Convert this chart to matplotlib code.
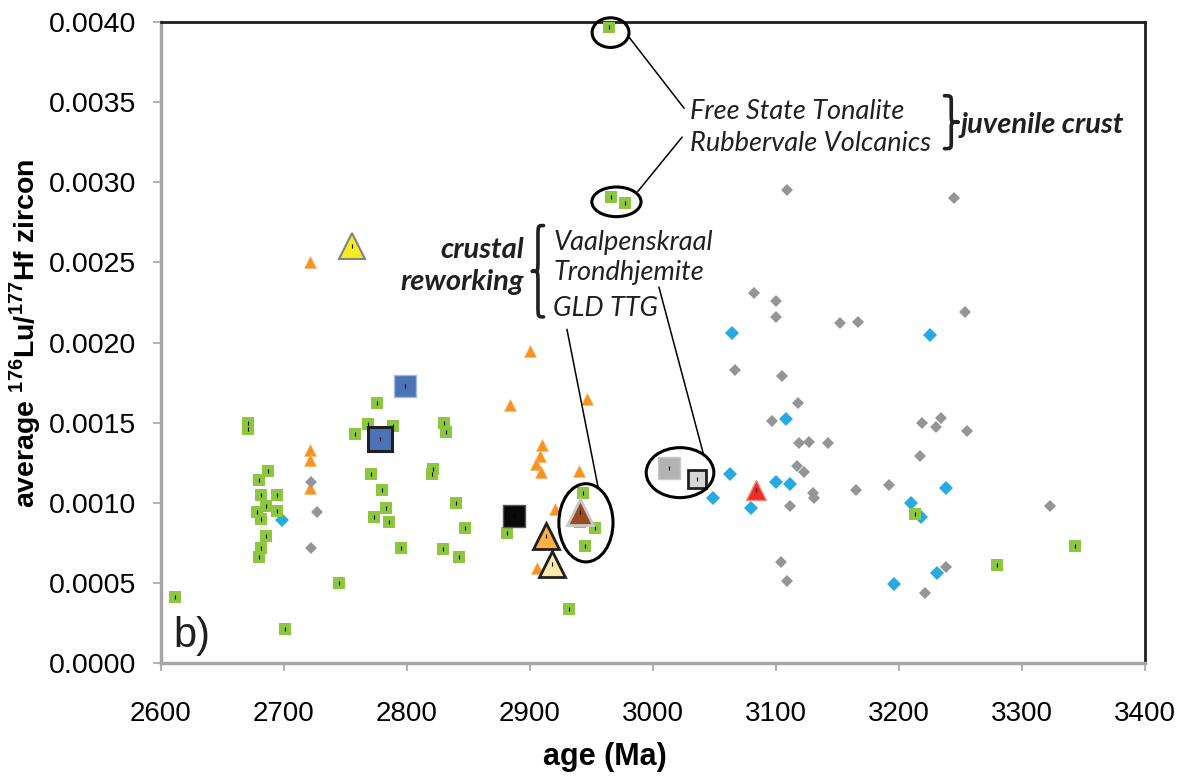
import numpy as np
import matplotlib
matplotlib.use("Agg")
import matplotlib.pyplot as plt
from matplotlib.patches import Ellipse, PathPatch
from matplotlib.path import Path

plt.rcParams['font.family'] = ['Liberation Sans', 'DejaVu Sans']
plt.rcParams['mathtext.fontset'] = 'custom'
plt.rcParams['mathtext.bf'] = 'Liberation Sans:bold'
plt.rcParams['mathtext.rm'] = 'Liberation Sans'

### DATA ###

# small green squares
green_age = [2611, 2671, 2671, 2687, 2680, 2681, 2694, 2685, 2678, 2681, 2694, 2685,
             2681, 2680, 2701, 2745, 2776, 2768, 2758, 2789, 2771, 2780, 2783, 2773,
             2785, 2795, 2821, 2820, 2830, 2832, 2829, 2840, 2847, 2842, 2881, 2943,
             2941, 2953, 2945, 2932, 2964, 2966, 2977, 3213, 3343, 3280]
green_lu = [0.00041, 0.00150, 0.00146, 0.00120, 0.00114, 0.00105, 0.00105, 0.00098,
            0.00094, 0.00090, 0.00095, 0.00079, 0.00072, 0.00066, 0.00021, 0.00050,
            0.00162, 0.00149, 0.00143, 0.00148, 0.00118, 0.00108, 0.00097, 0.00091,
            0.00088, 0.00072, 0.00121, 0.00118, 0.00150, 0.00144, 0.00071, 0.00100,
            0.00084, 0.00066, 0.00081, 0.00106, 0.00088, 0.00084, 0.00073, 0.00034,
            0.00397, 0.00291, 0.00287, 0.00093, 0.00073, 0.00061]

# small orange triangles
orange_age = [2721, 2721, 2721, 2721, 2900, 2884, 2946, 2910, 2908, 2905, 2909, 2940,
              2920, 2906]
orange_lu = [0.00133, 0.00127, 0.00109, 0.00250, 0.00195, 0.00161, 0.00165, 0.00136,
             0.00129, 0.00124, 0.00119, 0.00120, 0.00096, 0.00059]

# grey diamonds
grey_age = [2722, 2727, 2722, 3109, 3082, 3100, 3100, 3152, 3167, 3067, 3105, 3118,
            3097, 3219, 3230, 3119, 3127, 3142, 3245, 3254, 3234, 3255, 3217, 3192,
            3323, 3238, 3221, 3117, 3123, 3130, 3131, 3111, 3165, 3104, 3109]
grey_lu = [0.00113, 0.00094, 0.00072, 0.00295, 0.00231, 0.00226, 0.00216, 0.00212,
           0.00213, 0.00183, 0.00179, 0.00162, 0.00151, 0.00150, 0.00147, 0.00137,
           0.00138, 0.00137, 0.00290, 0.00219, 0.00153, 0.00145, 0.00129, 0.00111,
           0.00098, 0.00060, 0.00044, 0.00123, 0.00119, 0.00106, 0.00103, 0.00098,
           0.00108, 0.00063, 0.00051]

# blue diamonds
blue_age = [2698, 3064, 3225, 3108, 3238, 3210, 3218, 3231, 3196, 3063, 3049, 3080,
            3100, 3111]
blue_lu = [0.00089, 0.00206, 0.00205, 0.00152, 0.00109, 0.00100, 0.00091, 0.00056,
           0.00049, 0.00118, 0.00103, 0.00097, 0.00113, 0.00112]

# large symbols (sample averages)
big_age = [2755, 2798, 2778, 2887, 2913, 2918, 2941, 3013, 3036, 3084]
big_lu = [0.00260, 0.00173, 0.00140, 0.00092, 0.00079, 0.00062, 0.00094, 0.00122,
          0.00115, 0.00108]
big_marker = ['^', 's', 's', 's', '^', '^', '^', 's', 's', '^']
big_face = ['#F4EB22', '#4C72B8', '#4C72B8', '#0A0A0A', '#FBB040', '#FDE9A9',
            '#974B22', '#B3B3B3', '#D6D6D6', '#EE2E24']
big_edge = ['#808285', '#A8B8DE', '#231F20', '#555555', '#231F20', '#231F20',
            '#C8C8C8', '#C8C8C8', '#231F20', '#F58A7E']
big_size = [19, 16.5, 17, 16.5, 19, 19, 19, 16.5, 13, 15]
big_ew = [1.5, 1, 2.2, 1, 2, 2, 2, 1, 2, 1]


### PLOT ###

fig = plt.figure(figsize=(11.81, 7.76), dpi=100)
ax = fig.add_axes([0.1363, 0.1456, 0.8332, 0.8260])

ax.plot(orange_age, orange_lu, '^', color='#F7941D', ms=8.6, mec='#FBB678', mew=0.5,
        ls='none', zorder=2)
ax.plot(grey_age, grey_lu, 'D', color='#939598', ms=6.2, mew=0, ls='none', zorder=3)
ax.plot(blue_age, blue_lu, 'D', color='#27AAE1', ms=7.0, mew=0, ls='none', zorder=4)
ax.plot(green_age, green_lu, 's', color='#8DC63F', ms=8.6, mew=0, ls='none', zorder=5)
ax.plot(green_age, green_lu, '|', color='black', ms=2.5, mew=0.8, ls='none', zorder=6)

for a, l, m, fc, ec, s, ew in zip(big_age, big_lu, big_marker, big_face, big_edge,
                                  big_size, big_ew):
    ax.plot(a, l, m, mfc=fc, mec=ec, ms=s, mew=ew, ls='none', zorder=7)
ax.plot(big_age, big_lu, '|', color='black', ms=2.5, mew=0.8, ls='none', zorder=8)

# ellipses round the labelled samples
for cx, cy, w, h in [(2965.5, 0.003934, 30, 0.000185),
                     (2970.3, 0.002878, 40, 0.000185),
                     (2945.5, 0.000875, 44, 0.000488),
                     (3022.0, 0.001188, 55, 0.000312)]:
    ax.add_patch(Ellipse((cx, cy), w, h, fill=False, ec='black', lw=2.2,
                         zorder=9, clip_on=False))

# leader lines
for (x0, y0), (x1, y1) in [((2980.5, 0.003906), (3025.2, 0.003463)),
                           ((3023.6, 0.003281), (2987.8, 0.002944)),
                           ((3004.9, 0.002344), (3040.7, 0.001313)),
                           ((2930.1, 0.002081), (2955.3, 0.001100))]:
    ax.plot([x0, x1], [y0, y1], color='black', lw=1.1, zorder=9, clip_on=False)


def brace(x_flat, x_tip, y0, y1):
    # curly brace in data coords; x_tip is where the middle point sticks out
    xm = (x_flat + x_tip) / 2
    ym = (y0 + y1) / 2
    r = (y1 - y0) * 0.12
    verts = [(x_flat, y1), (xm, y1), (xm, y1), (xm, y1 - r),
             (xm, ym + r),
             (xm, ym), (xm, ym), (x_tip, ym),
             (xm, ym), (xm, ym), (xm, ym - r),
             (xm, y0 + r),
             (xm, y0), (xm, y0), (x_flat, y0)]
    codes = [Path.MOVETO, Path.CURVE4, Path.CURVE4, Path.CURVE4,
             Path.LINETO,
             Path.CURVE4, Path.CURVE4, Path.CURVE4,
             Path.CURVE4, Path.CURVE4, Path.CURVE4,
             Path.LINETO,
             Path.CURVE4, Path.CURVE4, Path.CURVE4]
    ax.add_patch(PathPatch(Path(verts, codes), fill=False, ec='#231F20', lw=2.6,
                           capstyle='round', joinstyle='round', zorder=9,
                           clip_on=False))


brace(3237, 3248, 0.00321, 0.00354)
brace(2911, 2902, 0.00216, 0.00273)

txt = dict(family=['Lato', 'DejaVu Sans'], style='italic', color='#231F20',
           va='center', zorder=10)
ax.text(3030, 0.00344, 'Free State Tonalite', ha='left', fontsize=19.5, **txt)
ax.text(3030, 0.003244, 'Rubbervale Volcanics', ha='left', fontsize=19.5, **txt)
ax.text(3250, 0.003356, 'juvenile crust', ha='left', fontweight='bold', fontsize=21, **txt)
ax.text(2919, 0.002625, 'Vaalpenskraal', ha='left', fontsize=19.5, **txt)
ax.text(2919, 0.002435, 'Trondhjemite', ha='left', fontsize=19.5, **txt)
ax.text(2919, 0.002212, 'GLD TTG', ha='left', fontsize=19.5, **txt)
ax.text(2895, 0.00258, 'crustal', ha='right', fontweight='bold', fontsize=21, **txt)
ax.text(2895, 0.00238, 'reworking', ha='right', fontweight='bold', fontsize=21, **txt)

ax.text(2610, 0.00017, 'b)', fontsize=30, color='#231F20', va='center', ha='left')

ax.set_xlim(2600, 3400)
ax.set_ylim(0, 0.004)
ax.set_xticks(np.arange(2600, 3401, 100))
ax.set_yticks(np.arange(0, 0.00401, 0.0005))
ax.set_yticklabels(['%.4f' % v for v in np.arange(0, 0.00401, 0.0005)])

for s in ['left', 'bottom']:
    ax.spines[s].set_color('#A6A6A6')
    ax.spines[s].set_linewidth(2.5)
for s in ['top', 'right']:
    ax.spines[s].set_color('#231F20')
    ax.spines[s].set_linewidth(2)

ax.tick_params(axis='both', direction='out', length=6, width=1.2, color='#A6A6A6')
ax.tick_params(axis='y', labelsize=20.5, pad=12)
ax.tick_params(axis='x', labelsize=20, pad=21)

# axis titles placed as in the original (x title sits left of centre)
fig.text(605 / 1181, 1 - 757 / 776, 'age (Ma)', fontsize=22, fontweight='bold',
         ha='center', va='center')
fig.text(25 / 1181, 1 - 333 / 776,
         r'average $^{\mathbf{176}}$Lu/$^{\mathbf{177}}$Hf zircon', fontsize=20.5,
         fontweight='bold', ha='center', va='center', rotation=90)

fig.savefig('out.png', dpi=100)
